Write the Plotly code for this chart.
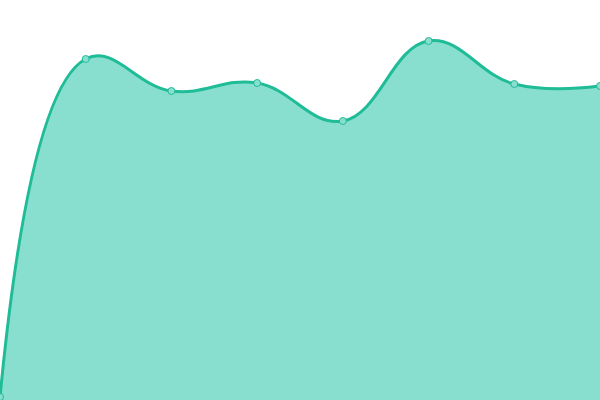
import plotly.graph_objects as go

# 數據
x_vals = [0, 1, 2, 3, 4, 5, 6, 7]
y_vals = [0.75, 85.25, 77.25, 79.25, 69.75, 89.75, 79.0, 78.5]

line_color = "#1fbc97"
fill_color = "#89dfcf"

fig = go.Figure(go.Scatter(
    x=x_vals,
    y=y_vals,
    mode="lines+markers",
    line=dict(color=line_color, width=3, shape="spline", smoothing=1.2),
    fill="tozeroy",
    fillcolor=fill_color,
    marker=dict(size=7, color=fill_color, line=dict(color=line_color, width=1)),
    cliponaxis=False,
    hoverinfo="skip",
))

fig.update_layout(
    width=600,
    height=400,
    margin=dict(l=0, r=0, t=0, b=0),
    paper_bgcolor="white",
    plot_bgcolor="white",
    showlegend=False,
    xaxis=dict(visible=False, range=[0, 7], fixedrange=True),
    yaxis=dict(visible=False, range=[0, 100], fixedrange=True),
)

# 去掉頁面預設邊距，讓圖表貼齊視窗左上角
fig.write_html(
    "out.html",
    config={"displayModeBar": False},
    post_script="document.body.style.margin='0';",
)
